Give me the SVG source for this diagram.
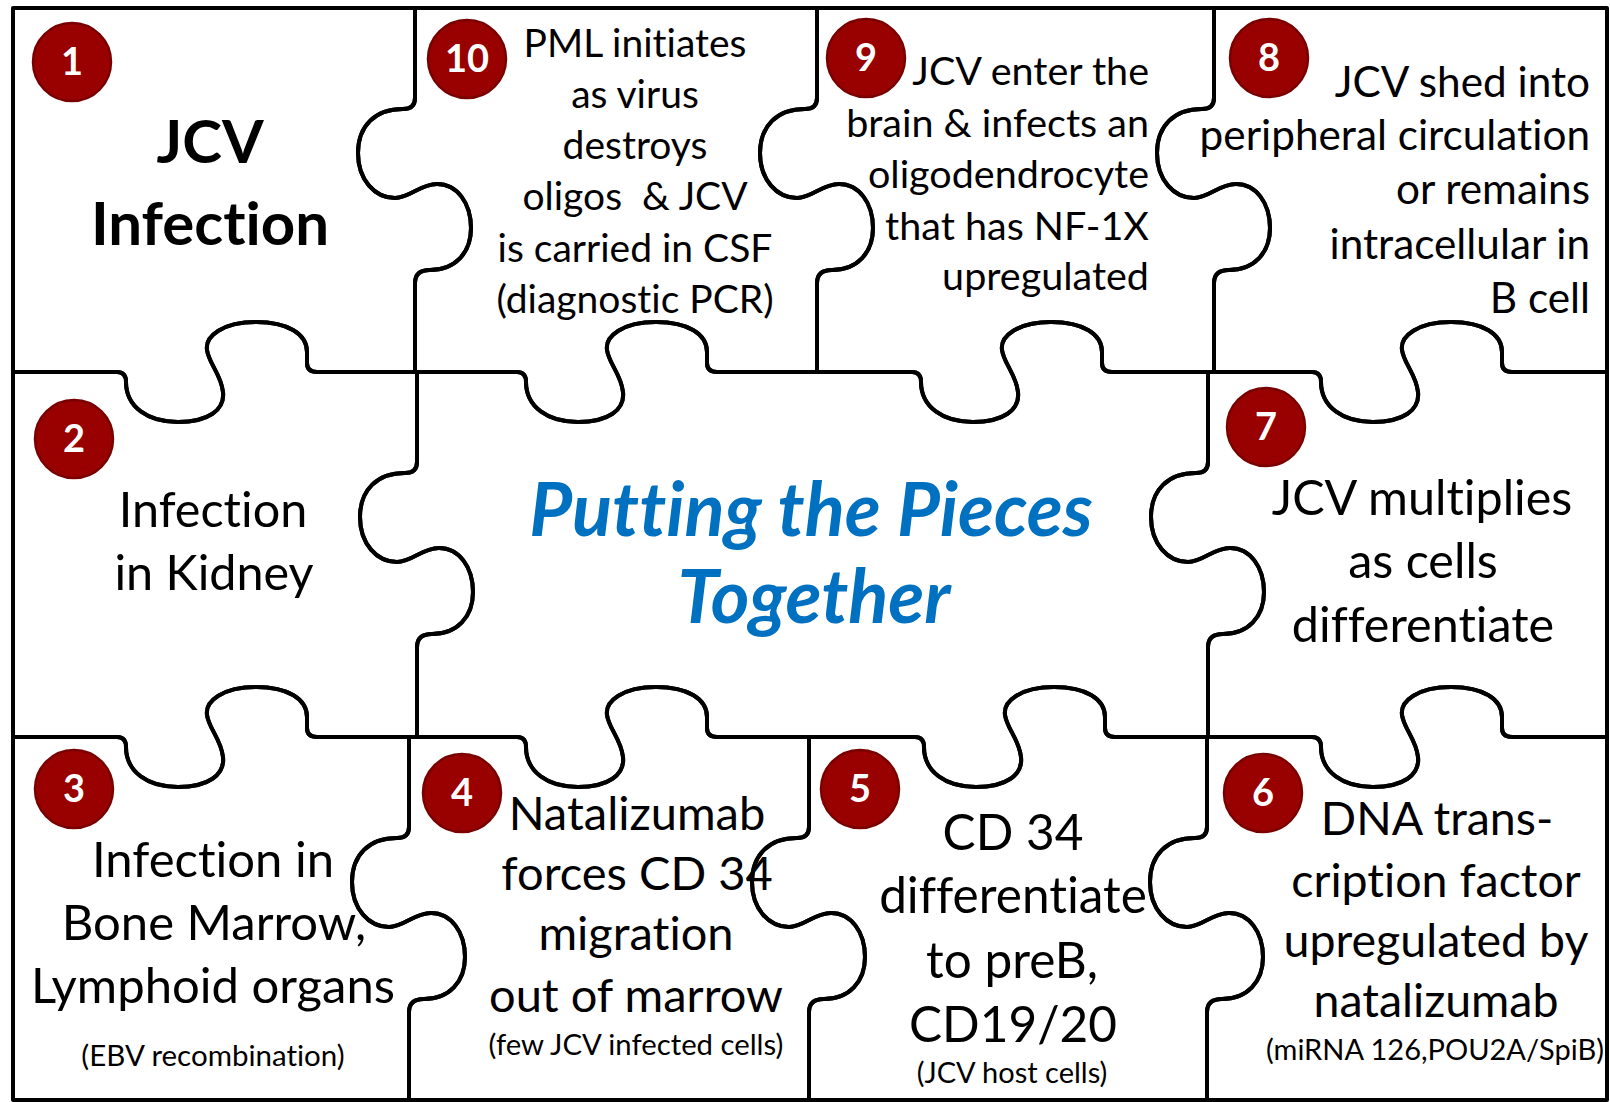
<svg xmlns="http://www.w3.org/2000/svg" width="1610" height="1102" viewBox="0 0 1610 1102">
  <style>
    .piece { fill: none; stroke: #000; stroke-width: 4; stroke-linejoin: round; stroke-linecap: round; }
    .badge circle { fill: #990000; stroke: #7a0000; stroke-width: 2.5; }
    .badge text { font-family: Lato, "Liberation Sans", sans-serif; font-weight: 700; font-size: 38px; fill: #fff; text-anchor: middle; }
    .t { font-family: Lato, "Liberation Sans", sans-serif; fill: #000; font-variant-ligatures: none; }
    .c { text-anchor: middle; }
    .r { text-anchor: end; }
    .title { font-family: Lato, "Liberation Sans", sans-serif; font-weight: 700; font-style: italic; font-size: 74px; fill: #0070C0; text-anchor: middle; font-variant-ligatures: none; }
  </style>
  <rect x="0" y="0" width="1610" height="1102" fill="#fff"/>

  <!-- Row 1 -->
  <g id="piece-1">
    <path class="piece" d="M 13,8 L 415,8 L 415,98 Q 415,109 403,109 C 375,109 358,126 358,153 C 358,180 375,198 395,198 C 410,198 420,184 437,184 C 457,184 471,203 471,228 C 471,253 455,270 430,270 Q 415,270 415,283 L 415,372 L 317,372 Q 307,372 307,363 L 307,352 C 307,334 288,322 256,322 C 223,322 205,336 207,350 C 209,364 221,374 223,392 C 225,410 208,422 178,422 C 148,422 126,407 126,382 Q 126,372 117,372 L 13,372 Z"/>
    <g class="badge"><circle cx="72" cy="62" r="39"/><text x="72" y="75">1</text></g>
    <text class="t c" font-size="60" font-weight="700"><tspan x="210" y="163">JCV</tspan><tspan x="210" y="245">Infection</tspan></text>
  </g>

  <g id="piece-10">
    <path class="piece" d="M 415,8 L 817,8 L 817,98 Q 817,109 805,109 C 777,109 760,126 760,153 C 760,180 777,198 797,198 C 812,198 822,184 839,184 C 859,184 873,203 873,228 C 873,253 857,270 832,270 Q 817,270 817,283 L 817,372 L 717,372 Q 707,372 707,363 L 707,352 C 707,334 688,322 656,322 C 623,322 605,336 607,350 C 609,364 621,374 623,392 C 625,410 608,422 578,422 C 548,422 526,407 526,382 Q 526,372 517,372 L 415,372 L 415,283 Q 415,270 430,270 C 455,270 471,253 471,228 C 471,203 457,184 437,184 C 420,184 410,198 395,198 C 375,198 358,180 358,153 C 358,126 375,109 403,109 Q 415,109 415,98 Z"/>
    <g class="badge"><circle cx="467" cy="59" r="39"/><text x="467" y="72">10</text></g>
    <text class="t c" font-size="39"><tspan x="635" y="57">PML initiates</tspan><tspan
      x="635" y="108">as virus</tspan><tspan
      x="635" y="159">destroys</tspan><tspan
      x="635" y="210">oligos &#160;&amp; JCV</tspan><tspan
      x="635" y="262">is carried in CSF</tspan><tspan
      x="635" y="313">(diagnostic PCR)</tspan></text>
  </g>

  <g id="piece-9">
    <path class="piece" d="M 817,8 L 1214,8 L 1214,98 Q 1214,109 1202,109 C 1174,109 1157,126 1157,153 C 1157,180 1174,198 1194,198 C 1209,198 1219,184 1236,184 C 1256,184 1270,203 1270,228 C 1270,253 1254,270 1229,270 Q 1214,270 1214,283 L 1214,372 L 1112,372 Q 1102,372 1102,363 L 1102,352 C 1102,334 1083,322 1051,322 C 1018,322 1000,336 1002,350 C 1004,364 1016,374 1018,392 C 1020,410 1003,422 973,422 C 943,422 921,407 921,382 Q 921,372 912,372 L 817,372 L 817,283 Q 817,270 832,270 C 857,270 873,253 873,228 C 873,203 859,184 839,184 C 822,184 812,198 797,198 C 777,198 760,180 760,153 C 760,126 777,109 805,109 Q 817,109 817,98 Z"/>
    <g class="badge"><circle cx="866" cy="58" r="39"/><text x="866" y="71">9</text></g>
    <text class="t r" font-size="39.5"><tspan x="1149" y="85">JCV enter the</tspan><tspan
      x="1149" y="137">brain &amp; infects an</tspan><tspan
      x="1149" y="188">oligodendrocyte</tspan><tspan
      x="1149" y="240">that has NF-1X</tspan><tspan
      x="1149" y="290">upregulated</tspan></text>
  </g>

  <g id="piece-8">
    <path class="piece" d="M 1214,8 L 1607,8 L 1607,372 L 1512,372 Q 1502,372 1502,363 L 1502,352 C 1502,334 1483,322 1451,322 C 1418,322 1400,336 1402,350 C 1404,364 1416,374 1418,392 C 1420,410 1403,422 1373,422 C 1343,422 1321,407 1321,382 Q 1321,372 1312,372 L 1214,372 L 1214,283 Q 1214,270 1229,270 C 1254,270 1270,253 1270,228 C 1270,203 1256,184 1236,184 C 1219,184 1209,198 1194,198 C 1174,198 1157,180 1157,153 C 1157,126 1174,109 1202,109 Q 1214,109 1214,98 Z"/>
    <g class="badge"><circle cx="1269" cy="58" r="39"/><text x="1269" y="71">8</text></g>
    <text class="t r" font-size="42.3"><tspan x="1590" y="97">JCV shed into</tspan><tspan
      x="1590" y="150">peripheral circulation</tspan><tspan
      x="1590" y="204">or remains</tspan><tspan
      x="1590" y="259">intracellular in</tspan><tspan
      x="1590" y="313">B cell</tspan></text>
  </g>

  <!-- Row 2 -->
  <g id="piece-2">
    <path class="piece" d="M 13,372 L 117,372 Q 126,372 126,382 C 126,407 148,422 178,422 C 208,422 225,410 223,392 C 221,374 209,364 207,350 C 205,336 223,322 256,322 C 288,322 307,334 307,352 L 307,363 Q 307,372 317,372 L 417,372 L 417,462 Q 417,473 405,473 C 377,473 360,490 360,517 C 360,544 377,562 397,562 C 412,562 422,548 439,548 C 459,548 473,567 473,592 C 473,617 457,634 432,634 Q 417,634 417,647 L 417,737 L 317,737 Q 307,737 307,728 L 307,717 C 307,699 288,687 256,687 C 223,687 205,701 207,715 C 209,729 221,739 223,757 C 225,775 208,787 178,787 C 148,787 126,772 126,747 Q 126,737 117,737 L 13,737 Z"/>
    <g class="badge"><circle cx="74" cy="439" r="39"/><text x="74" y="452">2</text></g>
    <text class="t c" font-size="48.5"><tspan x="213" y="527">Infection</tspan><tspan
      x="214" y="590">in Kidney</tspan></text>
  </g>

  <g id="piece-center">
    <path class="piece" d="M 417,372 L 517,372 Q 526,372 526,382 C 526,407 548,422 578,422 C 608,422 625,410 623,392 C 621,374 609,364 607,350 C 605,336 623,322 656,322 C 688,322 707,334 707,352 L 707,363 Q 707,372 717,372 L 912,372 Q 921,372 921,382 C 921,407 943,422 973,422 C 1003,422 1020,410 1018,392 C 1016,374 1004,364 1002,350 C 1000,336 1018,322 1051,322 C 1083,322 1102,334 1102,352 L 1102,363 Q 1102,372 1112,372 L 1208,372 L 1208,462 Q 1208,473 1196,473 C 1168,473 1151,490 1151,517 C 1151,544 1168,562 1188,562 C 1203,562 1213,548 1230,548 C 1250,548 1264,567 1264,592 C 1264,617 1248,634 1223,634 Q 1208,634 1208,647 L 1208,737 L 1115,737 Q 1105,737 1105,728 L 1105,717 C 1105,699 1086,687 1054,687 C 1021,687 1003,701 1005,715 C 1007,729 1019,739 1021,757 C 1023,775 1006,787 976,787 C 946,787 924,772 924,747 Q 924,737 915,737 L 717,737 Q 707,737 707,728 L 707,717 C 707,699 688,687 656,687 C 623,687 605,701 607,715 C 609,729 621,739 623,757 C 625,775 608,787 578,787 C 548,787 526,772 526,747 Q 526,737 517,737 L 417,737 L 417,647 Q 417,634 432,634 C 457,634 473,617 473,592 C 473,567 459,548 439,548 C 422,548 412,562 397,562 C 377,562 360,544 360,517 C 360,490 377,473 405,473 Q 417,473 417,462 Z"/>
    <text class="title"><tspan x="811" y="536">Putting the Pieces</tspan><tspan
      x="814" y="623">Together</tspan></text>
  </g>

  <g id="piece-7">
    <path class="piece" d="M 1208,372 L 1312,372 Q 1321,372 1321,382 C 1321,407 1343,422 1373,422 C 1403,422 1420,410 1418,392 C 1416,374 1404,364 1402,350 C 1400,336 1418,322 1451,322 C 1483,322 1502,334 1502,352 L 1502,363 Q 1502,372 1512,372 L 1607,372 L 1607,737 L 1512,737 Q 1502,737 1502,728 L 1502,717 C 1502,699 1483,687 1451,687 C 1418,687 1400,701 1402,715 C 1404,729 1416,739 1418,757 C 1420,775 1403,787 1373,787 C 1343,787 1321,772 1321,747 Q 1321,737 1312,737 L 1208,737 L 1208,647 Q 1208,634 1223,634 C 1248,634 1264,617 1264,592 C 1264,567 1250,548 1230,548 C 1213,548 1203,562 1188,562 C 1168,562 1151,544 1151,517 C 1151,490 1168,473 1196,473 Q 1208,473 1208,462 Z"/>
    <g class="badge"><circle cx="1266" cy="427" r="39"/><text x="1266" y="440">7</text></g>
    <text class="t c" font-size="48.5"><tspan x="1422" y="515">JCV multiplies</tspan><tspan
      x="1423" y="578">as cells</tspan><tspan
      x="1423" y="642">differentiate</tspan></text>
  </g>

  <!-- Row 3 -->
  <g id="piece-3">
    <path class="piece" d="M 13,737 L 117,737 Q 126,737 126,747 C 126,772 148,787 178,787 C 208,787 225,775 223,757 C 221,739 209,729 207,715 C 205,701 223,687 256,687 C 288,687 307,699 307,717 L 307,728 Q 307,737 317,737 L 409,737 L 409,827 Q 409,838 397,838 C 369,838 352,855 352,882 C 352,909 369,927 389,927 C 404,927 414,913 431,913 C 451,913 465,932 465,957 C 465,982 449,999 424,999 Q 409,999 409,1012 L 409,1100 L 13,1100 Z"/>
    <g class="badge"><circle cx="74" cy="789" r="39"/><text x="74" y="802">3</text></g>
    <text class="t c" font-size="49"><tspan x="213" y="877">Infection in</tspan><tspan
      x="214" y="940">Bone Marrow,</tspan><tspan
      x="213" y="1003">Lymphoid organs</tspan></text>
    <text class="t c" font-size="29.5" x="213" y="1066">(EBV recombination)</text>
  </g>

  <g id="piece-4">
    <path class="piece" d="M 409,737 L 517,737 Q 526,737 526,747 C 526,772 548,787 578,787 C 608,787 625,775 623,757 C 621,739 609,729 607,715 C 605,701 623,687 656,687 C 688,687 707,699 707,717 L 707,728 Q 707,737 717,737 L 809,737 L 809,827 Q 809,838 797,838 C 769,838 752,855 752,882 C 752,909 769,927 789,927 C 804,927 814,913 831,913 C 851,913 865,932 865,957 C 865,982 849,999 824,999 Q 809,999 809,1012 L 809,1100 L 409,1100 L 409,1012 Q 409,999 424,999 C 449,999 465,982 465,957 C 465,932 451,913 431,913 C 414,913 404,927 389,927 C 369,927 352,909 352,882 C 352,855 369,838 397,838 Q 409,838 409,827 Z"/>
    <g class="badge"><circle cx="462" cy="793" r="39"/><text x="462" y="806">4</text></g>
    <text class="t c" font-size="47"><tspan x="637" y="830">Natalizumab</tspan><tspan
      x="637" y="890">forces CD 34</tspan><tspan
      x="636" y="950">migration</tspan><tspan
      x="636" y="1012">out of marrow</tspan></text>
    <text class="t c" font-size="29.3" x="636" y="1055">(few JCV infected cells)</text>
  </g>

  <g id="piece-5">
    <path class="piece" d="M 809,737 L 915,737 Q 924,737 924,747 C 924,772 946,787 976,787 C 1006,787 1023,775 1021,757 C 1019,739 1007,729 1005,715 C 1003,701 1021,687 1054,687 C 1086,687 1105,699 1105,717 L 1105,728 Q 1105,737 1115,737 L 1207,737 L 1207,827 Q 1207,838 1195,838 C 1167,838 1150,855 1150,882 C 1150,909 1167,927 1187,927 C 1202,927 1212,913 1229,913 C 1249,913 1263,932 1263,957 C 1263,982 1247,999 1222,999 Q 1207,999 1207,1012 L 1207,1100 L 809,1100 L 809,1012 Q 809,999 824,999 C 849,999 865,982 865,957 C 865,932 851,913 831,913 C 814,913 804,927 789,927 C 769,927 752,909 752,882 C 752,855 769,838 797,838 Q 809,838 809,827 Z"/>
    <g class="badge"><circle cx="860" cy="789" r="39"/><text x="860" y="802">5</text></g>
    <text class="t c" font-size="49.5"><tspan x="1013" y="850">CD 34</tspan><tspan
      x="1013" y="913">differentiate</tspan><tspan
      x="1012" y="978">to preB,</tspan><tspan
      x="1013" y="1042">CD19/20</tspan></text>
    <text class="t c" font-size="29" x="1012" y="1083">(JCV host cells)</text>
  </g>

  <g id="piece-6">
    <path class="piece" d="M 1207,737 L 1312,737 Q 1321,737 1321,747 C 1321,772 1343,787 1373,787 C 1403,787 1420,775 1418,757 C 1416,739 1404,729 1402,715 C 1400,701 1418,687 1451,687 C 1483,687 1502,699 1502,717 L 1502,728 Q 1502,737 1512,737 L 1607,737 L 1607,1100 L 1207,1100 L 1207,1012 Q 1207,999 1222,999 C 1247,999 1263,982 1263,957 C 1263,932 1249,913 1229,913 C 1212,913 1202,927 1187,927 C 1167,927 1150,909 1150,882 C 1150,855 1167,838 1195,838 Q 1207,838 1207,827 Z"/>
    <g class="badge"><circle cx="1263" cy="793" r="39"/><text x="1263" y="806">6</text></g>
    <text class="t c" font-size="46.5"><tspan x="1437" y="835">DNA trans-</tspan><tspan
      x="1436" y="897">cription factor</tspan><tspan
      x="1436" y="957">upregulated by</tspan><tspan
      x="1436" y="1017">natalizumab</tspan></text>
    <text class="t c" font-size="29" x="1435" y="1060">(miRNA 126,POU2A/SpiB)</text>
  </g>
</svg>
